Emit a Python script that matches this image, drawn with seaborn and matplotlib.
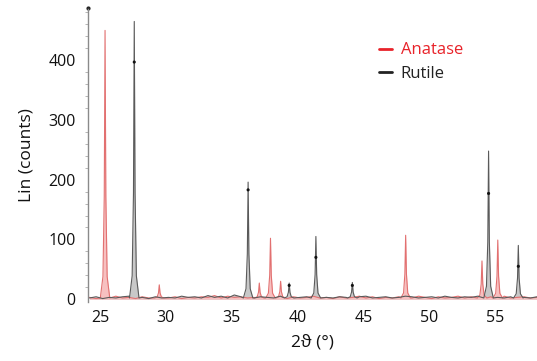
import numpy as np
import pandas as pd
import matplotlib
matplotlib.use("Agg")
import matplotlib.pyplot as plt
from matplotlib.lines import Line2D
import seaborn as sns

# ---- data ----
anatase_pos = [25.38, 29.5, 37.1, 37.95, 38.72, 48.22, 54.02, 55.22]
anatase_int = [450, 24, 27, 102, 30, 107, 64, 99]
rutile_pos = [27.6, 36.25, 39.37, 41.4, 44.17, 54.52, 56.78]
rutile_int = [465, 196, 27, 105, 28, 248, 90]
rutile_mark = [397, 183, 23, 70, 23, 177, 55]

base_x = [24.2, 24.7, 25.2, 25.7, 26.2, 26.7, 27.2, 27.7, 28.2, 28.7, 29.2, 29.7,
          30.2, 30.7, 31.2, 31.7, 32.2, 32.7, 33.2, 33.7, 34.2, 34.7, 35.2, 35.7,
          36.2, 36.7, 37.2, 37.7, 38.2, 38.7, 39.2, 39.7, 40.2, 40.7, 41.2, 41.7,
          42.2, 42.7, 43.2, 43.7, 44.2, 44.7, 45.2, 45.7, 46.2, 46.7, 47.2, 47.7,
          48.2, 48.7, 49.2, 49.7, 50.2, 50.7, 51.2, 51.7, 52.2, 52.7, 53.2, 53.7,
          54.2, 54.7, 55.2, 55.7, 56.2, 56.7, 57.2, 57.7, 58.2]
anatase_base = [3, 1, 4, 2, 5, 2, 3, 1, 4, 2, 3, 5, 2, 4, 1, 3, 2, 4, 3, 6,
                2, 5, 3, 4, 2, 3, 5, 2, 4, 3, 1, 4, 2, 3, 5, 2, 3, 1, 4, 2,
                3, 5, 2, 4, 1, 3, 2, 4, 3, 2, 5, 3, 1, 4, 2, 3, 5, 2, 4, 3,
                2, 4, 3, 5, 2, 3, 4, 2, 3]
rutile_base = [2, 4, 1, 3, 2, 4, 5, 2, 3, 1, 4, 2, 3, 2, 5, 3, 4, 2, 6, 3,
               5, 2, 7, 4, 3, 2, 4, 3, 2, 5, 3, 1, 3, 4, 2, 5, 3, 2, 4, 3,
               2, 4, 5, 2, 3, 4, 2, 3, 5, 4, 2, 3, 4, 2, 5, 3, 2, 4, 3, 5,
               4, 2, 3, 2, 4, 5, 3, 2, 4]

y_ticks = [0, 100, 200, 300, 400]
x_ticks = [25, 30, 35, 40, 45, 50, 55]

# peak drawing style (shape only)
OFFS = [-0.36, -0.16, -0.06, 0.0, 0.06, 0.16, 0.36]
FRAC = [0.0, 0.08, 0.38, 1.0, 0.38, 0.08, 0.0]


def trace(pos, inten, bx, by):
    pts = [(x, y) for x, y in zip(bx, by) if all(abs(x - p) > 0.38 for p in pos)]
    for p, h in zip(pos, inten):
        for o, f in zip(OFFS, FRAC):
            pts.append((p + o, 2 + f * (h - 2)))
    pts.sort()
    return pd.DataFrame(pts, columns=["two_theta", "counts"])


sns.set_style("white")
plt.rcParams["font.family"] = ["Open Sans", "DejaVu Sans"]

fig = plt.figure(figsize=(5.37, 3.61), dpi=100)
ax = fig.add_axes([0.164, 0.163, 0.836, 0.814])

da = trace(anatase_pos, anatase_int, base_x, anatase_base)
dr = trace(rutile_pos, rutile_int, base_x, rutile_base)

ax.fill_between(dr["two_theta"], 0, dr["counts"], color="#c8c8c8", lw=0, zorder=1)
ax.fill_between(da["two_theta"], 0, da["counts"], color="#f7c0c0", lw=0, zorder=1)
sns.lineplot(data=dr, x="two_theta", y="counts", ax=ax, color="#5a5a5a",
             lw=0.8, estimator=None, sort=False, zorder=3)
sns.lineplot(data=da, x="two_theta", y="counts", ax=ax, color="#e27070",
             lw=0.8, estimator=None, sort=False, zorder=2)
sns.scatterplot(x=rutile_pos, y=rutile_mark, ax=ax, color="#111111", s=5,
                edgecolor="none", zorder=4)

ax.set_xlim(24.09, 58.2)
ax.set_ylim(-5, 487)
for s in ["top", "right", "bottom"]:
    ax.spines[s].set_visible(False)
ax.spines["left"].set_color("#8a8a8a")
ax.spines["left"].set_linestyle((0, (1, 1)))
ax.spines["left"].set_linewidth(1.0)
ax.plot([24.09], [487], marker="o", ms=2, color="#222222", clip_on=False)

ax.set_xticks(x_ticks)
ax.set_yticks(y_ticks)
ax.set_yticks(np.arange(0, 481, 20), minor=True)
ax.tick_params(axis="x", length=0, labelsize=11.5, pad=6, colors="#111111")
ax.tick_params(axis="y", which="major", length=3, width=0.6, color="#8a8a8a",
               labelsize=11.5, pad=6, labelcolor="#111111")
ax.tick_params(axis="y", which="minor", length=2, width=0.5, color="#9a9a9a", left=True)
ax.set_xlabel("2ϑ (°)", fontsize=12.5, labelpad=6, color="#111111")
ax.set_ylabel("Lin (counts)", fontsize=12.5, labelpad=10, color="#111111")

handles = [Line2D([0], [0], color="#e8232a", lw=2),
           Line2D([0], [0], color="#222222", lw=2)]
leg = ax.legend(handles, ["Anatase", "Rutile"], loc="upper left",
                bbox_to_anchor=(0.615, 0.935), frameon=False, fontsize=12,
                handlelength=0.8, handletextpad=0.5, labelspacing=0.45)
leg.get_texts()[0].set_color("#e8232a")
leg.get_texts()[1].set_color("#222222")

fig.savefig("out.png", dpi=100)
